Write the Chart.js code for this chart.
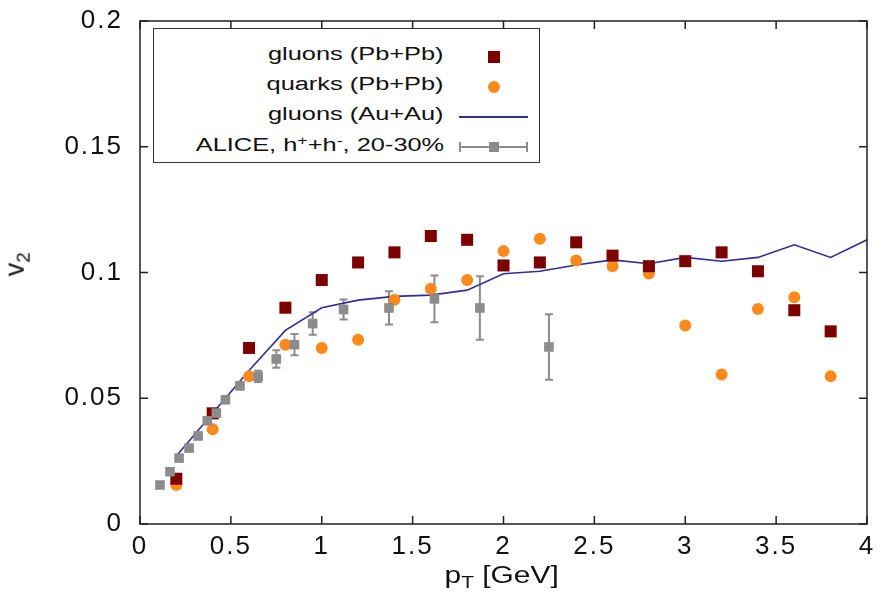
<!DOCTYPE html>
<html>
<head>
<meta charset="utf-8">
<script src="https://cdn.jsdelivr.net/npm/chart.js@4/dist/chart.umd.min.js"></script>
<style>
  body { margin: 0; background: #fff; }
  #wrap { position: relative; width: 883px; height: 604px; font-family: "Liberation Sans", Arial, sans-serif; color: #111; }
  #legend { position: absolute; left: 153px; top: 28px; width: 385px; height: 133px; border: 1.5px solid #333; background: #fff; }
  .row { position: absolute; left: 0; width: 100%; height: 30px; }
  .lab { position: absolute; right: 95px; top: 2px; font-size: 18px; white-space: nowrap; transform: scaleX(1.41); transform-origin: right center; }
  .sym { position: absolute; }
  #xtitle { position: absolute; left: 0; width: 1003px; top: 562px; text-align: center; font-size: 23px; transform: scaleX(1.3); transform-origin: 501px 0; white-space: nowrap; }
  #ytitle { position: absolute; left: 5px; top: 247px; font-size: 27px; transform: rotate(-90deg); white-space: nowrap; }
  sub { font-size: 0.7em; vertical-align: -0.3em; }
  sup { font-size: 0.7em; vertical-align: 0.5em; }
</style>
</head>
<body>
<div id="wrap">
  <canvas id="c"></canvas>
  <div id="legend">
    <div class="row" style="top:13px"><span class="lab">gluons (Pb+Pb)</span>
      <div class="sym" style="left:334px;top:9px;width:12px;height:12px;background:#7d0000"></div></div>
    <div class="row" style="top:43px"><span class="lab">quarks (Pb+Pb)</span>
      <div class="sym" style="left:334px;top:9px;width:12px;height:12px;border-radius:50%;background:#ff8a1c"></div></div>
    <div class="row" style="top:73px"><span class="lab">gluons (Au+Au)</span>
      <div class="sym" style="left:305px;top:14px;width:69px;height:1.5px;background:#2e2e9a"></div></div>
    <div class="row" style="top:103px"><span class="lab">ALICE, h<sup>+</sup>+h<sup>-</sup>, 20-30%</span>
      <div class="sym" style="left:305px;top:14px;width:69px;height:2px;background:#8c8c8c"></div>
      <div class="sym" style="left:305px;top:10px;width:2px;height:10px;background:#8c8c8c"></div>
      <div class="sym" style="left:372px;top:10px;width:2px;height:10px;background:#8c8c8c"></div>
      <div class="sym" style="left:335px;top:10px;width:10px;height:10px;background:#8c8c8c"></div></div>
  </div>
  <div id="xtitle">p<sub>T</sub> [GeV]</div>
  <div id="ytitle">v<sub>2</sub></div>
</div>
<script>
// model points (Pb+Pb)
const pbX = [0.2, 0.4, 0.6, 0.8, 1.0, 1.2, 1.4, 1.6, 1.8, 2.0, 2.2, 2.4, 2.6, 2.8, 3.0, 3.2, 3.4, 3.6, 3.8];
const gluonY = [0.018, 0.044, 0.070, 0.086, 0.097, 0.104, 0.108, 0.1145, 0.113, 0.1028, 0.104, 0.112, 0.1067, 0.1025, 0.1045, 0.108, 0.1005, 0.085, 0.0766];
const quarkY = [0.0155, 0.0377, 0.0587, 0.0713, 0.070, 0.0733, 0.0892, 0.0935, 0.097, 0.1085, 0.1134, 0.1048, 0.1025, 0.0996, 0.0789, 0.0594, 0.0855, 0.0902, 0.0587];

// gluons Au+Au curve
const auX = [0.2, 0.4, 0.6, 0.8, 1.0, 1.2, 1.4, 1.6, 1.8, 2.0, 2.2, 2.4, 2.6, 2.8, 3.0, 3.2, 3.4, 3.6, 3.8, 4.0];
const auY = [0.027, 0.044, 0.061, 0.077, 0.086, 0.089, 0.0905, 0.091, 0.093, 0.0995, 0.1005, 0.103, 0.105, 0.1035, 0.106, 0.1045, 0.106, 0.111, 0.106, 0.113];

// ALICE h+ + h-, 20-30%
const aliceX = [0.11, 0.165, 0.215, 0.27, 0.32, 0.37, 0.42, 0.47, 0.55, 0.65, 0.75, 0.85, 0.95, 1.12, 1.37, 1.62, 1.87, 2.25];
const aliceY = [0.0155, 0.0208, 0.0262, 0.0302, 0.035, 0.041, 0.0441, 0.0494, 0.055, 0.0587, 0.0656, 0.0713, 0.0797, 0.0853, 0.0859, 0.0895, 0.0859, 0.0704];
const aliceErr = [0.0005, 0.0006, 0.0007, 0.0008, 0.0009, 0.001, 0.0012, 0.0013, 0.0015, 0.0022, 0.0035, 0.0042, 0.0045, 0.004, 0.0066, 0.0093, 0.0126, 0.013];

const xTicks = [0, 0.5, 1, 1.5, 2, 2.5, 3, 3.5, 4];
const yTicks = [0, 0.05, 0.1, 0.15, 0.2];

const pts = (xs, ys) => xs.map((x, i) => ({ x: x, y: ys[i] }));

// error bars under the ALICE squares
const errorBars = {
  id: 'errorBars',
  beforeDatasetsDraw(chart) {
    const ctx = chart.ctx, xs = chart.scales.x, ys = chart.scales.y;
    ctx.save();
    ctx.strokeStyle = '#8c8c8c';
    ctx.lineWidth = 2;
    aliceX.forEach((x, i) => {
      const px = xs.getPixelForValue(x);
      const lo = ys.getPixelForValue(aliceY[i] - aliceErr[i]);
      const hi = ys.getPixelForValue(aliceY[i] + aliceErr[i]);
      ctx.beginPath();
      ctx.moveTo(px, lo); ctx.lineTo(px, hi);
      ctx.moveTo(px - 4, lo); ctx.lineTo(px + 4, lo);
      ctx.moveTo(px - 4, hi); ctx.lineTo(px + 4, hi);
      ctx.stroke();
    });
    ctx.restore();
  }
};

// gnuplot style frame with inward ticks on all four sides
const frame = {
  id: 'frame',
  beforeDraw(chart) {
    // the tick numbers in the original are wide, spread them a little
    chart.ctx.letterSpacing = '2px';
  },
  afterDraw(chart) {
    const ctx = chart.ctx, a = chart.chartArea, xs = chart.scales.x, ys = chart.scales.y;
    ctx.save();
    ctx.strokeStyle = '#222';
    ctx.lineWidth = 1.5;
    ctx.strokeRect(a.left, a.top, a.right - a.left, a.bottom - a.top);
    ctx.beginPath();
    xTicks.forEach(v => {
      const px = xs.getPixelForValue(v);
      ctx.moveTo(px, a.bottom); ctx.lineTo(px, a.bottom - 8);
      ctx.moveTo(px, a.top); ctx.lineTo(px, a.top + 8);
    });
    yTicks.forEach(v => {
      const py = ys.getPixelForValue(v);
      ctx.moveTo(a.left, py); ctx.lineTo(a.left + 8, py);
      ctx.moveTo(a.right, py); ctx.lineTo(a.right - 8, py);
    });
    ctx.stroke();
    ctx.restore();
  }
};

const tickFont = { family: '"Liberation Sans", Arial, sans-serif', size: 26 };

new Chart(document.getElementById('c'), {
  type: 'scatter',
  data: {
    datasets: [
      {
        label: 'ALICE, h+ + h-, 20-30%',
        data: pts(aliceX, aliceY),
        pointStyle: 'rect', pointRadius: 6.8, borderWidth: 0,
        backgroundColor: '#8c8c8c', borderColor: '#8c8c8c'
      },
      {
        label: 'gluons (Pb+Pb)',
        data: pts(pbX, gluonY),
        pointStyle: 'rect', pointRadius: 8.5, borderWidth: 0,
        backgroundColor: '#7d0000', borderColor: '#7d0000'
      },
      {
        label: 'quarks (Pb+Pb)',
        data: pts(pbX, quarkY),
        pointStyle: 'circle', pointRadius: 6, borderWidth: 0,
        backgroundColor: '#ff8a1c', borderColor: '#ff8a1c'
      },
      {
        label: 'gluons (Au+Au)',
        data: pts(auX, auY),
        showLine: true, pointRadius: 0, borderWidth: 1.6,
        borderColor: '#2e2e9a', backgroundColor: '#2e2e9a', tension: 0
      }
    ]
  },
  options: {
    responsive: true,
    maintainAspectRatio: false,
    animation: false,
    layout: { padding: { top: 21, right: 16, left: 0, bottom: 0 } },
    plugins: { legend: { display: false }, tooltip: { enabled: false } },
    scales: {
      x: {
        type: 'linear', min: 0, max: 4,
        grid: { display: false, drawTicks: false },
        border: { display: false },
        ticks: {
          stepSize: 0.5, font: tickFont, color: '#111', padding: 7, maxRotation: 0,
          callback: v => String(+v.toFixed(2))
        },
        afterFit: s => { s.height = 80; s.paddingLeft = 0; s.paddingRight = 0; }
      },
      y: {
        min: 0, max: 0.2,
        grid: { display: false, drawTicks: false },
        border: { display: false },
        ticks: {
          stepSize: 0.05, font: tickFont, color: '#111', padding: 17,
          callback: v => String(+v.toFixed(2))
        },
        afterFit: s => { s.width = 140; s.paddingTop = 0; s.paddingBottom = 0; }
      }
    }
  },
  plugins: [errorBars, frame]
});
</script>
</body>
</html>
